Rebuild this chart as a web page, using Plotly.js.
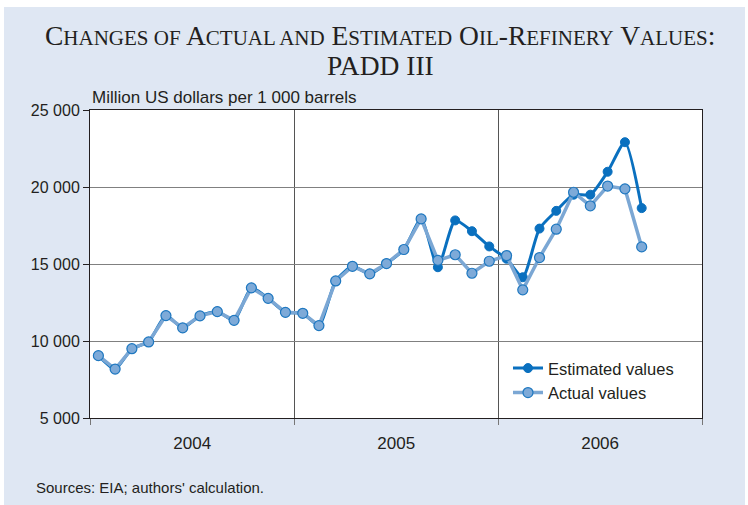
<!DOCTYPE html>
<html>
<head>
<meta charset="utf-8">
<script src="https://cdn.plot.ly/plotly-3.0.1.min.js"></script>
<style>
  html, body { margin: 0; padding: 0; background: #ffffff; }
  #chart { position: absolute; left: 4px; top: 7px; width: 741px; height: 498px; }
</style>
</head>
<body>
<div id="chart"></div>
<script>
// Monthly observations, Jan 2004 – Sep 2006 (mid-month)
const months = [
  '2004-01-16','2004-02-15','2004-03-16','2004-04-15','2004-05-16','2004-06-15',
  '2004-07-16','2004-08-16','2004-09-15','2004-10-16','2004-11-15','2004-12-16',
  '2005-01-16','2005-02-14','2005-03-16','2005-04-15','2005-05-16','2005-06-15',
  '2005-07-16','2005-08-16','2005-09-15','2005-10-16','2005-11-15','2005-12-16',
  '2006-01-16','2006-02-14','2006-03-16','2006-04-15','2006-05-16','2006-06-15',
  '2006-07-16','2006-08-16','2006-09-15'
];
const actualValues = [
  9050, 8180, 9500, 9940, 11650, 10850, 11630, 11910, 11340, 13450, 12770, 11860,
  11800, 11000, 13900, 14850, 14360, 15030, 15940, 17930, 15240, 15600, 14400, 15180,
  15550, 13320, 15420, 17260, 19660, 18780, 20060, 19880, 16110
];
const estimatedValues = [
  9050, 8180, 9500, 9940, 11650, 10850, 11630, 11910, 11340, 13450, 12770, 11860,
  11800, 11000, 13900, 14850, 14360, 15030, 15940, 17930, 14790, 17830, 17130, 16140,
  15340, 14140, 17300, 18450, 19500, 19500, 20990, 22910, 18630
];
const seriesNames = ['Estimated values', 'Actual values'];
const yTicks = [5000, 10000, 15000, 20000, 25000];

const traces = [
  {
    x: months, y: estimatedValues, name: seriesNames[0], type: 'scatter', mode: 'lines+markers',
    line: { color: '#0a70bf', width: 3, shape: 'spline', smoothing: 0.6 },
    marker: { color: '#0a70bf', size: 9, line: { color: '#0a70bf', width: 1 } }
  },
  {
    x: months, y: actualValues, name: seriesNames[1], type: 'scatter', mode: 'lines+markers',
    line: { color: '#7ba7d4', width: 3.5 },
    marker: { color: '#7eaad8', size: 10, line: { color: '#1f78c0', width: 1.2 } }
  }
];

const S = t => '<span style="font-size:21px">' + t + '</span>';
const titleLine1 = 'C' + S('HANGES OF') + ' A' + S('CTUAL AND') + ' E' + S('STIMATED') +
  ' O' + S('IL') + '-R' + S('EFINERY') + ' V' + S('ALUES') + ':';
const titleLine2 = 'PADD III';
const titleFont = { family: 'Liberation Serif, Times New Roman, serif', size: 27.5, color: '#231f20' };

const layout = {
  width: 741, height: 498,
  paper_bgcolor: '#dfe7f3', plot_bgcolor: '#ffffff',
  margin: { l: 86, r: 43, t: 103, b: 87 },
  separators: '. ',
  showlegend: true,
  font: { family: 'Liberation Sans, Arial, sans-serif', size: 16, color: '#231f20' },
  xaxis: {
    type: 'date', range: ['2004-01-01', '2007-01-01'],
    tick0: '2004-01-01', dtick: 'M12', tickformat: '%Y', ticklabelmode: 'period',
    showgrid: true, gridcolor: '#555555', gridwidth: 1,
    showline: true, linecolor: '#231f20', linewidth: 1, mirror: true,
    ticks: 'outside', ticklen: 6, tickcolor: '#777777', ticklabelstandoff: 4,
    tickfont: { size: 17 }, zeroline: false
  },
  yaxis: {
    range: [5000, 25000], tickvals: yTicks, tickformat: ',d',
    showgrid: true, gridcolor: '#808080', gridwidth: 1,
    showline: true, linecolor: '#231f20', linewidth: 1, mirror: true,
    ticks: 'outside', ticklen: 6, tickcolor: '#231f20',
    tickfont: { size: 16 }, zeroline: false
  },
  legend: {
    x: 0.683, y: 0.218, xanchor: 'left', yanchor: 'top',
    bgcolor: 'rgba(0,0,0,0)', font: { size: 16.5 }, itemwidth: 30, tracegroupgap: 0
  },
  annotations: [
    { text: titleLine1, xref: 'paper', yref: 'paper', x: 0.474, y: 1.243,
      xanchor: 'center', yanchor: 'middle', showarrow: false, font: titleFont },
    { text: titleLine2, xref: 'paper', yref: 'paper', x: 0.474, y: 1.143,
      xanchor: 'center', yanchor: 'middle', showarrow: false, font: titleFont },
    { text: 'Million US dollars per 1 000 barrels', xref: 'paper', yref: 'paper',
      x: 0, y: 1, xanchor: 'left', yanchor: 'bottom', yshift: 1, showarrow: false,
      font: { size: 17, color: '#231f20' } },
    { text: "Sources: EIA; authors' calculation.", xref: 'paper', yref: 'paper',
      x: -0.091, y: -0.227, xanchor: 'left', yanchor: 'middle', showarrow: false,
      font: { size: 15, color: '#231f20' } }
  ]
};

Plotly.newPlot('chart', traces, layout, { displayModeBar: false, staticPlot: true });
</script>
</body>
</html>
